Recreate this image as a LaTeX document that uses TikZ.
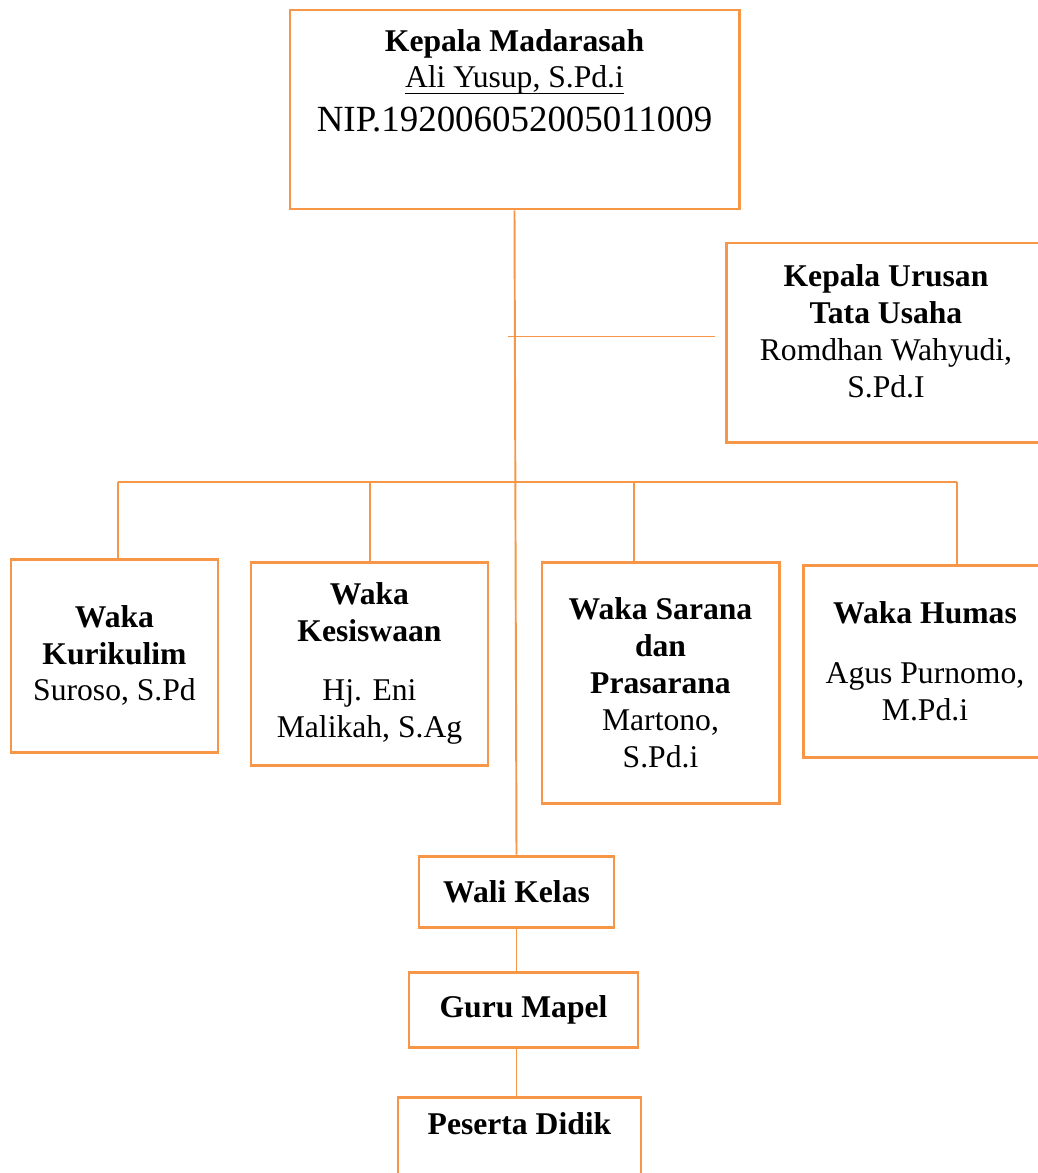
\documentclass[tikz,border=0pt]{standalone}
\usepackage{fontspec}
\setmainfont{Liberation Serif}
\definecolor{UnitOrange}{HTML}{F79646}

\begin{document}
\begin{tikzpicture}[
  font=\fontsize{18}{21}\selectfont,
  unit/.style={draw=UnitOrange,line width=1.7pt,align=center,inner sep=0pt},
  link/.style={draw=UnitOrange,line width=1.1pt}
]
\useasboundingbox (0,0) rectangle (20.76,-23.46);
\clip (0,0) rectangle (20.76,-23.46);

% Head of the madrasah and administration
\node[unit,minimum width=8.98cm,minimum height=3.98cm] (kamad) at (10.29,-2.19)
  {\textbf{Kepala Madarasah}\\\underline{\smash{Ali Yusup, S.Pd.i}\rule[-1.4pt]{0pt}{0pt}}\\[4pt]{\fontsize{21}{24}\selectfont NIP.192006052005011009}\\[12pt]\mbox{}};
\node[unit,minimum width=6.40cm,minimum height=3.98cm] (katu) at (17.72,-6.85)
  {\textbf{Kepala Urusan}\\\textbf{Tata Usaha}\\Romdhan Wahyudi,\\S.Pd.I\\[-8pt]\mbox{}};

% Vice heads
\node[unit,minimum width=4.14cm,minimum height=3.86cm] (wakur) at (2.29,-13.11)
  {\textbf{Waka}\\\textbf{Kurikulim}\\Suroso, S.Pd};
\node[unit,minimum width=4.74cm,minimum height=4.06cm] (wakes) at (7.39,-13.27)
  {\textbf{Waka}\\\textbf{Kesiswaan}\\[13pt]Hj. Eni\\Malikah, S.Ag};
\node[unit,minimum width=4.74cm,minimum height=4.82cm] (wasar) at (13.21,-13.65)
  {\textbf{Waka Sarana}\\\textbf{dan}\\\textbf{Prasarana}\\Martono,\\S.Pd.i};
\node[unit,minimum width=4.88cm,minimum height=3.84cm] (wahum) at (18.50,-13.22)
  {\textbf{Waka Humas}\\[13pt]Agus Purnomo,\\M.Pd.i};

% Teachers and students
\node[unit,minimum width=3.90cm,minimum height=1.42cm] (walikelas) at (10.33,-17.83) {\textbf{Wali Kelas}};
\node[unit,minimum width=4.58cm,minimum height=1.50cm] (gurumapel) at (10.47,-20.19) {\textbf{Guru Mapel}};
\node[unit,minimum width=4.86cm,minimum height=1.60cm] (peserta) at (10.39,-22.74) {\textbf{Peserta Didik}\\[-6pt]\mbox{}};

% Connectors
\draw[link] (kamad.south) -- (walikelas.north);
\coordinate (tubranch) at (10.16,-6.73);
\draw[link,shorten >=0.2cm] (tubranch) -- (tubranch -| katu.west);
\coordinate (barleft) at (2.36,-9.64);
\coordinate (barright) at (19.14,-9.64);
\draw[link] (barleft) -- (barright);
\foreach \target/\xpos in {wakur/2.36,wakes/7.40,wasar/12.68,wahum/19.14} {
  \coordinate (drop\target) at (\xpos,-9.64);
  \draw[link] (drop\target) -- (drop\target |- \target.north);
}
\draw[link] (walikelas.south) -- (walikelas.south |- gurumapel.north);
\draw[link] (walikelas.south |- gurumapel.south) -- (walikelas.south |- peserta.north);

\end{tikzpicture}
\end{document}
